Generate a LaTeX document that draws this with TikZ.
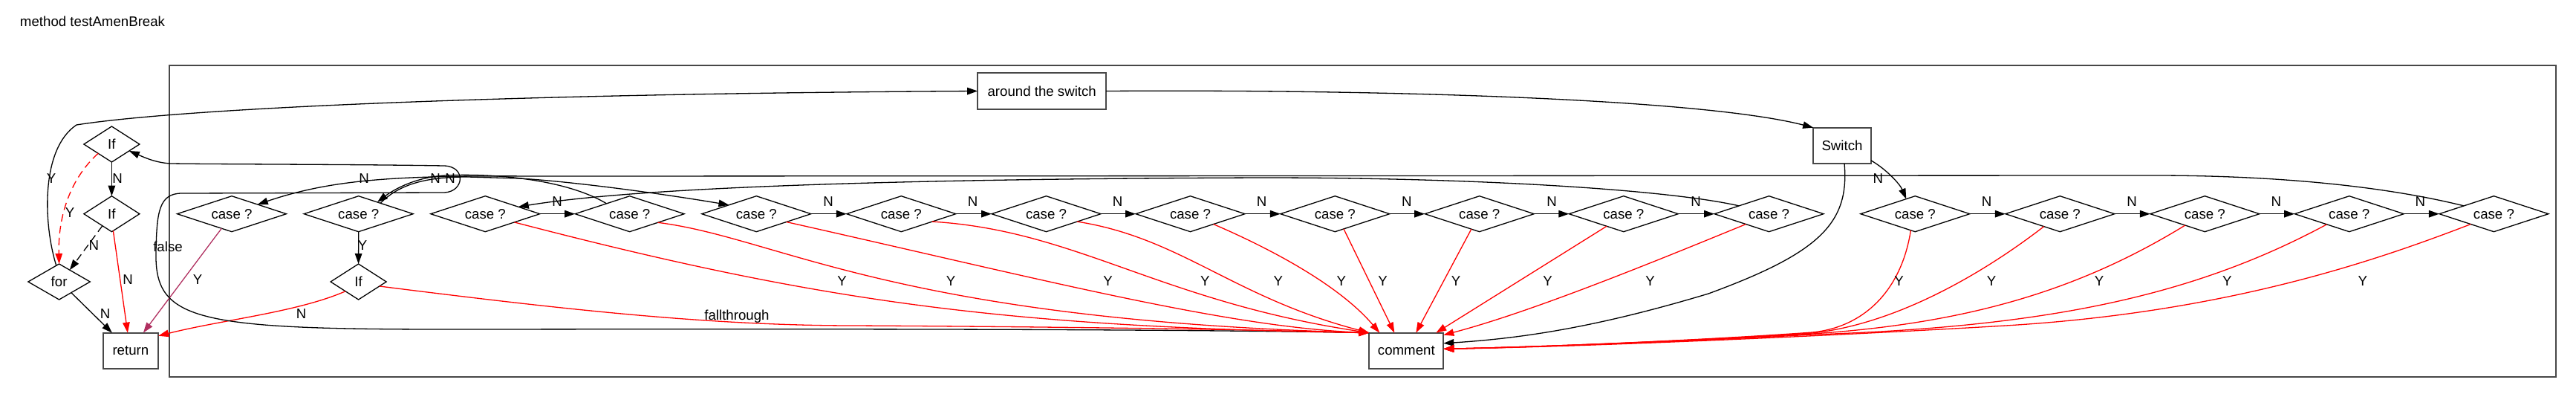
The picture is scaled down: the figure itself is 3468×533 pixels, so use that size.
\documentclass[tikz,border=0pt]{standalone}
\usepackage{fontspec}
\setmainfont{Liberation Sans}
\usetikzlibrary{shapes.geometric,arrows.meta}
\definecolor{maroonx}{HTML}{B03060}
\definecolor{boxgray}{HTML}{484848}
\begin{document}
\begin{tikzpicture}[x=1pt,y=-1pt,
  every node/.style={font=\fontsize{18.67pt}{22pt}\selectfont, inner sep=0pt, outer sep=0pt},
  dia/.style={draw=black, line width=1.3pt, shape=diamond, shape aspect=3, minimum height=48pt},
  casedia/.style={dia, minimum width=147pt},
  ifdia/.style={dia, minimum width=75pt},
  fordia/.style={dia, minimum width=83.4pt},
  rect/.style={draw=boxgray, line width=1.8pt, shape=rectangle, minimum height=48.3pt},
  clusterbox/.style={draw=black!72, line width=1.8pt, shape=rectangle},
  conn/.style={line width=1.3pt, -{Triangle[length=14pt,width=9.5pt]}},
  blk/.style={conn, black},
  rd/.style={conn, red},
  pur/.style={conn, maroonx},
  dsh/.style={dash pattern=on 10pt off 6pt},
]
\useasboundingbox (0,0) rectangle (3468,533);

% title and cluster
\node[anchor=base west] (title) at (27,35) {method testAmenBreak};
\node[clusterbox, minimum width=3213.6pt, minimum height=419pt] (clu) at (1834.5,297.2) {};

% nodes outside the cluster
\node[ifdia] (if1) at (150.4,194) {If};
\node[ifdia] (if2) at (150.4,287.7) {If};
\node[fordia] (for) at (79.6,379) {for};
\node[rect, minimum width=74.6pt] (ret) at (175.9,471.8) {return};

% nodes inside the cluster
\node[rect, minimum width=173pt] (around) at (1402.7,122.5) {around the switch};
\node[rect, minimum width=77.7pt] (sw) at (2480,195.8) {Switch};
\node[rect, minimum width=100pt] (comment) at (1893.3,471.8) {comment};
\node[ifdia] (if3) at (482.6,379) {If};

\node[casedia] (cA) at (312,287.7) {case ?};
\node[casedia] (cB) at (482.7,287.7) {case ?};
\node[casedia] (cC) at (653.3,287.7) {case ?};
\node[casedia] (cD) at (847.7,287.7) {case ?};
\node[casedia] (cE) at (1018.3,287.7) {case ?};
\node[casedia] (cF) at (1213.3,287.7) {case ?};
\node[casedia] (cG) at (1408.5,287.7) {case ?};
\node[casedia] (cH) at (1602.5,287.7) {case ?};
\node[casedia] (cI) at (1797.3,287.7) {case ?};
\node[casedia] (cJ) at (1991.7,287.7) {case ?};
\node[casedia] (cK) at (2185.8,287.7) {case ?};
\node[casedia] (cL) at (2381.5,287.7) {case ?};
\node[casedia] (cM) at (2578.3,287.7) {case ?};
\node[casedia] (cN) at (2773.3,287.7) {case ?};
\node[casedia] (cO) at (2968.3,287.7) {case ?};
\node[casedia] (cP) at (3162.7,287.7) {case ?};
\node[casedia] (cQ) at (3357.4,287.7) {case ?};

% ---- connectors outside
\draw[blk] (if1.south) -- (if2.north);
\draw[rd, dsh] (if1.-146) .. controls (95,240) and (78,290) .. (for.north);
\draw[blk, dsh] (if2.-128) -- (for.48);
\draw[rd] (if2.-85) -- ([xshift=-4pt]ret.north);
\draw[blk] (for.-42) -- ([xshift=-25pt]ret.north);
\draw[blk] (for.100) .. controls (58,300) and (55,200) .. (103,168) .. controls (250,145) and (700,126) .. (around.west);
\draw[pur] (cA.-125) -- ([xshift=17pt]ret.north);
\draw[blk] (cB.south) -- (if3.north);
\draw[rd] (if3.-144) .. controls (400,420) and (300,430) .. ([yshift=20pt]ret.east);
\draw[rd] (if3.-12) .. controls (750,415) and (950,438) .. (1150,438) .. controls (1500,440) and (1700,444) .. (comment.north west);

% ---- switch
\draw[blk] (around.east) .. controls (1900,120) and (2300,135) .. (sw.north west);
\draw[blk] ([yshift=-20pt]sw.east) .. controls (2540,228) and (2558,248) .. (cM.121);
\draw[blk] ([xshift=3pt]sw.south) .. controls (2490,300) and (2450,340) .. (2300,395) .. controls (2150,440) and (2050,455) .. ([yshift=10pt]comment.east);

% ---- flat N chains
\foreach \a/\b in {cC/cD,cE/cF,cF/cG,cG/cH,cH/cI,cI/cJ,cJ/cK,cK/cL,cM/cN,cN/cO,cO/cP,cP/cQ}
  \draw[blk] (\a.east) -- (\b.west);

% ---- long flat edges
\draw[blk] (cQ.165) .. controls (3200,248) and (3050,236) .. (2900,236) -- (720,237) .. controls (540,236) and (450,240) .. (cA.20);
\draw[blk] (cD.156) .. controls (760,240) and (660,233) .. (600,236) .. controls (560,238) and (530,255) .. (cB.32);
\draw[blk] (cB.26) .. controls (540,245) and (580,238) .. (630,238) -- (700,240) .. controls (780,245) and (900,262) .. (cE.162);
\draw[blk] (cL.165) .. controls (2250,256) and (2000,239) .. (1700,239) .. controls (1400,240) and (900,245) .. (cC.12);

% ---- back edge "false"
\draw[blk] (comment.north west) .. controls (1500,441) and (800,443) .. (600,443) .. controls (260,443) and (208,430) .. (210,339) .. controls (211,285) and (214,260) .. (245,260) -- (598,259) .. controls (625,258) and (628,224) .. (598,223) .. controls (480,221) and (300,221) .. (230,220) .. controls (210,219) and (195,212) .. (if1.-21);

% ---- Y edges of first group
\draw[rd] (cC.-16) .. controls (1100,405) and (1350,440) .. (comment.north west);
\draw[rd] (cD.-17) .. controls (1050,320) and (1200,430) .. (comment.north west);
\draw[rd] (cE.-15) .. controls (1400,375) and (1650,440) .. (comment.north west);
\draw[rd] (cF.-14) .. controls (1450,310) and (1560,405) .. (comment.north west);
\draw[rd] (cG.-14) .. controls (1590,320) and (1660,400) .. (comment.north west);
\draw[rd] (cH.-24) .. controls (1700,330) and (1800,380) .. ([xshift=-36pt]comment.north);
\draw[rd] (cI.-60) -- ([xshift=-16pt]comment.north);
\draw[rd] (cJ.-118) -- ([xshift=13pt]comment.north);
\draw[rd] (cK.-144) -- ([xshift=40pt]comment.north);
\draw[rd] (cL.-156) .. controls (2220,355) and (2060,420) .. ([yshift=-3pt]comment.north east);

% ---- Y edges of second group
\draw[rd] (cM.-105) .. controls (2560,390) and (2510,440) .. (2440,447) .. controls (2300,457) and (2100,466) .. ([yshift=2.5pt]comment.east);
\draw[rd] (cN.-142) .. controls (2680,360) and (2560,435) .. (2440,448) .. controls (2300,457) and (2100,466) .. ([yshift=2.5pt]comment.east);
\draw[rd] (cO.-150) .. controls (2800,390) and (2650,435) .. (2440,449) .. controls (2300,457) and (2100,466) .. ([yshift=2.5pt]comment.east);
\draw[rd] (cP.-155) .. controls (2950,400) and (2750,440) .. (2440,450) .. controls (2300,458) and (2100,466) .. ([yshift=2.5pt]comment.east);
\draw[rd] (cQ.-156) .. controls (3200,350) and (3000,420) .. (2700,438) .. controls (2500,450) and (2150,466) .. ([yshift=2.5pt]comment.east);

% ---- labels
\node (l1) at (158,240) {N};
\node (l2) at (94,286) {Y};
\node (l3) at (126.3,330.4) {N};
\node (l4) at (172.2,376.4) {N};
\node (l5) at (141.6,422.5) {N};
\node (l6) at (69,240) {Y};
\node (l7) at (266,376.4) {Y};
\node (l8) at (405.7,422.5) {N};
\node (l9) at (488,330.4) {Y};
\node[anchor=base] (l10) at (226,338.5) {false};
\node[anchor=base] (l11) at (992,430.4) {fallthrough};
\node (l12) at (490,240.5) {N};
\node (l13) at (586,240.5) {N};
\node (l14) at (606,240.5) {N};
\node (l15) at (2528.3,240) {N};
\foreach \x [count=\i] in {750,1115,1309.7,1504.5,1698.6,1893.8,2089,2283,2674.6,2870,3064.3,3258.3}
  \node (fn\i) at (\x,271.5) {N};
\foreach \x [count=\i] in {1133.7,1280,1491.5,1622.4,1720.8,1805.8,1861.6,1960,2083.6,2221.5,2556.5,2681,2826,2998.3,3180.7}
  \node (fy\i) at (\x,378.3) {Y};
\end{tikzpicture}
\end{document}
